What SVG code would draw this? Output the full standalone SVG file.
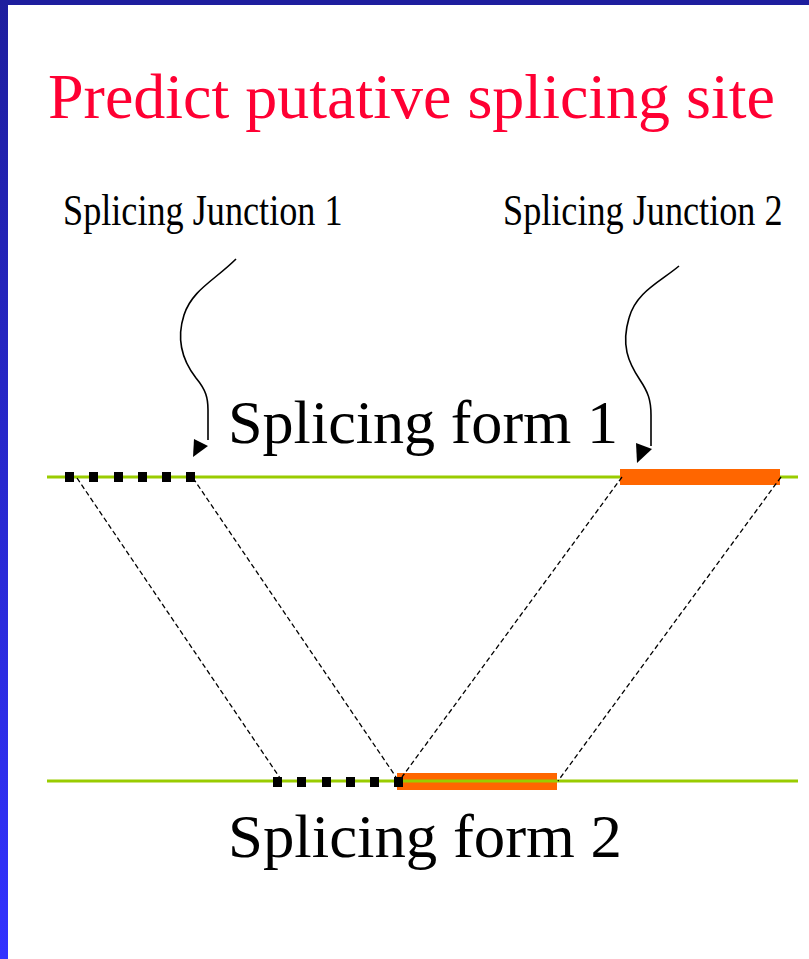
<svg xmlns="http://www.w3.org/2000/svg" width="809" height="959" viewBox="0 0 809 959">
<defs>
<linearGradient id="side" x1="0" y1="0" x2="0" y2="1">
<stop offset="0" stop-color="#1e1e9e"/>
<stop offset="1" stop-color="#3232ff"/>
</linearGradient>
<style>
.serif{font-family:"Liberation Serif","Times New Roman",serif;}
.title{font-size:64px;fill:#ff0033;}
.form{font-size:62px;fill:#000;}
.junc{font-size:45px;fill:#000;}
.green{stroke:#99cc00;stroke-width:3;fill:none;}
.orange{fill:#ff6600;}
.dot{fill:#000;}
.dash{stroke:#000;stroke-width:1.3;stroke-dasharray:5,3;fill:none;}
.curve{stroke:#000;stroke-width:1.6;fill:none;}
</style>
</defs>
<rect x="0" y="0" width="809" height="959" fill="#fff"/>
<rect x="0" y="0" width="809" height="5" fill="#1e1e9e"/>
<rect x="0" y="0" width="8" height="959" fill="url(#side)"/>

<text class="serif title" x="48" y="118">Predict putative splicing site</text>

<g id="junction1">
<text class="serif junc" transform="translate(63,225) scale(0.805,1)" x="0" y="0">Splicing Junction 1</text>
<path class="curve" d="M236,259 C215,280 192,290 184,315 C176,340 182,360 196,378 C206,390 208,398 208,410 L208,440"/>
<polygon points="194,439 208,446 193,457" fill="#000"/>
</g>

<g id="junction2">
<text class="serif junc" transform="translate(503,225) scale(0.805,1)" x="0" y="0">Splicing Junction 2</text>
<path class="curve" d="M679,266 C660,282 636,292 629,318 C621,345 628,362 640,380 C648,392 651,400 651,415 L651,446"/>
<polygon points="636,443 652,449 637,463" fill="#000"/>
</g>

<g id="form1">
<text class="serif form" x="228" y="443" textLength="390" lengthAdjust="spacingAndGlyphs">Splicing form 1</text>
<line class="green" x1="47" y1="477" x2="798" y2="477"/>
<rect class="orange" x="620" y="469" width="160" height="16"/>
<rect class="dot" x="65" y="472" width="9" height="10"/>
<rect class="dot" x="89" y="472" width="9" height="10"/>
<rect class="dot" x="114" y="472" width="9" height="10"/>
<rect class="dot" x="138" y="472" width="9" height="10"/>
<rect class="dot" x="162" y="472" width="9" height="10"/>
<rect class="dot" x="186" y="472" width="9" height="10"/>
</g>

<g id="form2">
<rect class="orange" x="397" y="773" width="160" height="17"/>
<line class="green" x1="47" y1="781" x2="798" y2="781"/>
<rect class="dot" x="273" y="777" width="9" height="10"/>
<rect class="dot" x="297" y="777" width="9" height="10"/>
<rect class="dot" x="322" y="777" width="9" height="10"/>
<rect class="dot" x="346" y="777" width="9" height="10"/>
<rect class="dot" x="370" y="777" width="9" height="10"/>
<rect class="dot" x="394" y="777" width="9" height="10"/>
<text class="serif form" x="228" y="857" textLength="394" lengthAdjust="spacingAndGlyphs">Splicing form 2</text>
</g>

<g id="connectors">
<line class="dash" x1="77" y1="478" x2="280" y2="778"/>
<line class="dash" x1="193" y1="478" x2="396" y2="777"/>
<line class="dash" x1="622" y1="477" x2="402" y2="777"/>
<line class="dash" x1="781" y1="477" x2="558" y2="781"/>
</g>
</svg>
